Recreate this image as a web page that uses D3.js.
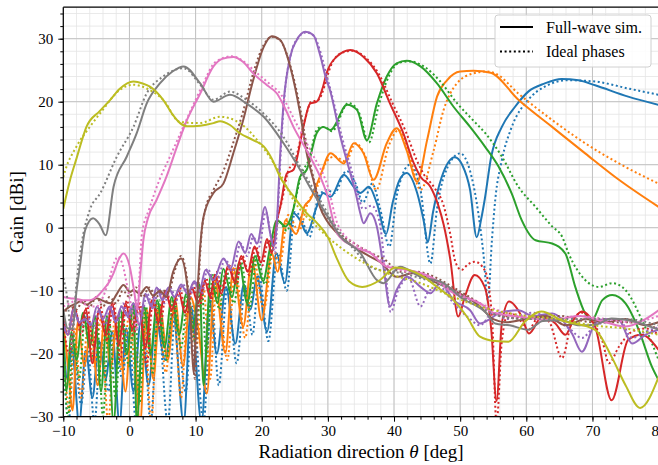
<!DOCTYPE html>
<html>
<head>
<meta charset="utf-8">
<script src="https://cdnjs.cloudflare.com/ajax/libs/d3/7.8.5/d3.min.js"></script>
<style>
  body { margin: 0; background: #fff; }
  svg text { font-family: "Liberation Serif", "DejaVu Serif", serif; fill: #000; }
</style>
</head>
<body>
<script>
// tick values
var xMajor = [-10, 0, 10, 20, 30, 40, 50, 60, 70, 80];
var yMajor = [-30, -20, -10, 0, 10, 20, 30];

// legend entries
var legendLabels = ["Full-wave sim.", "Ideal phases"];

// [theta (deg), gain (dBi)], one pair of arrays per beam
var blueFull = [[-10,-17],[-9.4,-24],[-8.7,-19],[-7.6,-31],[-6.6,-19.5],[-5.6,-27],[-4.6,-18],[-3.6,-24],[-2.6,-16.5],[-1.5,-31],[-0.5,-16],[0.6,-26],[1.7,-15],[2.9,-25],[4,-14.5],[5.4,-21],[6.6,-13.5],[8.2,-31],[9.3,-12.5],[10.9,-31],[12.1,-11.5],[13.2,-20],[14.6,-9.4],[16,-18.4],[17.3,-9],[18.3,-13],[19.3,-7.8],[20.8,-16.5],[22.2,-4.1],[23.5,-8.8],[24.8,2.3],[25.8,1.2],[26.8,-0.9],[28.3,3.3],[29.3,5.5],[30.4,4.9],[32.4,8.4],[33.9,6.5],[34.9,5.5],[36.2,6.5],[37.4,3.9],[38.8,-1],[39.8,4],[40.8,7.5],[41.9,8.7],[43.5,5.5],[44.5,1],[45.1,-2.3],[45.9,2.5],[47.2,8],[49.2,11.2],[50.3,10],[51.5,6],[52.5,-1.5],[53.2,1.5],[53.7,4.4],[54.7,11.3],[56.3,16],[58.3,19.2],[60.3,21.6],[62.8,22.9],[65.3,23.6],[67.9,23.4],[70.4,22.6],[75.4,20.8],[80,19.5]];
var blueIdeal = [[-10,-19],[-9.2,-31],[-8.4,-20],[-7.3,-28],[-6.3,-19],[-5.3,-31],[-4.3,-18],[-3.2,-26],[-2.2,-17],[-1.1,-24],[-0.1,-16],[1,-31],[2.1,-15.5],[3.2,-31],[4.3,-14],[5.8,-31],[6.9,-13.5],[8.5,-26],[9.6,-12.5],[11.2,-31],[12.4,-11],[13.5,-25],[14.8,-9.5],[16.2,-21.5],[17.5,-9.5],[18.6,-17],[19.6,-7.5],[21,-18],[22.4,-4],[23.8,-10],[25,2.5],[26,1.5],[27.2,-1.5],[28.6,5],[29.8,6],[31,5.5],[32.8,9],[34.2,7],[35.3,4],[36.7,7],[37.9,3],[39.3,-3],[40.4,5],[42.4,10],[44,6],[45.5,-5.7],[46.5,3],[47.5,8],[50,11.8],[51.5,9],[53.5,-4],[54.2,-11.5],[54.8,-2],[55.3,4.4],[56.3,10.7],[57.8,16],[60.3,20.3],[62.8,22.4],[66.3,23.4],[70.4,23.2],[75.4,22.1],[80,21.1]];

var orangeFull = [[-10,-15],[-9.3,-22],[-8.6,-29],[-7.8,-15],[-6.8,-22],[-5.8,-15.5],[-4.8,-25],[-3.8,-15],[-2.8,-22],[-1.8,-14],[-0.6,-26],[0.4,-13.5],[1.6,-31],[2.6,-13],[3.6,-24],[4.6,-12.5],[5.8,-21],[6.9,-11.5],[8.1,-22],[9.2,-11],[10.4,-16],[11.7,-26.3],[12.9,-8.3],[14.5,-19.9],[15.7,-6.4],[17.2,-15.7],[18.5,-5.1],[20,-14.7],[21.5,-4],[22.4,-7],[23.6,1.2],[25.2,-1],[26.5,3.5],[27.3,4.4],[28.8,8.1],[30.4,11.8],[32.4,10.2],[33.9,13.4],[35.4,11.8],[36.9,7.6],[38.9,13.4],[40.4,15.8],[41.9,12.3],[43.5,7.3],[45,13.9],[46.5,20.8],[48,23.4],[50,24.8],[52,24.9],[54.6,24.6],[58.8,20.3],[63.9,16],[68.9,11.8],[74,7.6],[80,3.3]];
var orangeIdeal = [[-10,-18],[-9.1,-29],[-8.3,-16],[-7.3,-27],[-6.3,-15.5],[-5.3,-22],[-4.3,-14.5],[-3.2,-31],[-2.2,-14],[-1.1,-23],[0,-13.5],[1.2,-27],[2.2,-13],[3.3,-31],[4.3,-12.5],[5.5,-23],[6.6,-11.5],[7.8,-27],[8.9,-11],[10.1,-19],[11.2,-9.5],[12.2,-24],[13.2,-8],[14.8,-21],[16,-6.5],[17.5,-17.5],[18.8,-5],[20.3,-13],[21.8,-3.5],[22.7,-6],[24,2],[25.6,-0.5],[27,4],[28.4,6.5],[29.8,10.5],[31,11.3],[32.7,10.5],[34.2,13.4],[35.8,11],[37.3,6],[39.2,13],[40.7,15.5],[42.2,12],[44,6],[46,12.3],[47.5,18.7],[49.5,22.9],[52,24.5],[54,24.8],[55.3,24.5],[58.8,21.3],[63.9,17.1],[68.9,13.4],[74,10.2],[80,7]];

var greenFull = [[-10,-16],[-9.5,-26],[-8.8,-16.5],[-8,-21],[-7,-13.5],[-6,-19],[-5.2,-14],[-4.3,-26],[-3.4,-14],[-2.4,-31],[-1.4,-13],[-0.4,-20],[0.6,-12],[1.1,-31],[2.2,-12.5],[3.2,-20],[4.2,-11.5],[5.3,-19],[6.4,-11],[7.5,-17],[8.6,-10.5],[9.6,-16],[10.6,-9],[11.2,-25],[12.3,-7.5],[13.3,-12],[14.2,-6.5],[15.5,-11],[16.6,-5.5],[17.8,-12],[19,-4.5],[20.2,-8.5],[21.2,-3.5],[22.3,1.2],[23.6,0.2],[24.8,3],[25.8,8.1],[26.8,9.2],[28.3,15],[29.3,16],[30.4,15.5],[32.9,19.5],[34.4,18.7],[35.9,13.9],[37.4,19.7],[38.9,24],[40.4,26.1],[41.9,26.5],[44,25.6],[46.5,22.9],[49,19.2],[51.5,16],[53.8,12.8],[55.8,9.7],[57.8,5.4],[59.3,1.2],[61.4,-2],[63.9,-2.5],[65.9,-4.1],[67.4,-9.4],[68.9,-13.6],[69.9,-14.7],[71.5,-11.5],[73,-10.7],[75,-12],[77,-16.2],[79,-22.1],[80,-24.2]];
var greenIdeal = [[-10,-19],[-9.3,-30],[-8.5,-17],[-7.6,-24],[-6.7,-14],[-5.7,-21],[-4.9,-15],[-4,-30],[-3.1,-14.5],[-2.1,-27],[-1.1,-13.5],[-0.1,-22],[0.9,-12.5],[1.5,-28],[2.5,-12.5],[3.5,-23],[4.5,-11.5],[5.6,-21],[6.7,-11],[7.8,-19],[8.9,-10.5],[9.9,-18],[10.9,-9],[11.6,-20],[12.6,-7.5],[13.6,-13],[14.6,-6.5],[15.8,-12],[16.9,-5.5],[18.1,-13],[19.3,-4.5],[20.5,-9],[21.6,-3],[22.6,1],[23.8,-0.5],[25,4],[26,8.5],[27,10.5],[28.5,15.8],[29.5,16],[30.6,15.3],[33.1,19.8],[34.6,18.5],[36.2,13.5],[37.7,19.5],[39.2,24],[40.8,26.2],[42.4,26.4],[44.5,25.6],[47,23.2],[49.5,19.8],[52,17],[53.8,15],[56.3,11.3],[58.8,6.5],[61.4,3.3],[63.9,0.2],[65.4,-1.4],[66.4,-4.1],[68.9,-8.3],[71,-9.4],[73,-8.8],[75,-9.9],[77.5,-14.7],[80,-21]];

var redFull = [[-10,-14.4],[-9.3,-17],[-8.4,-12.5],[-7.5,-15.5],[-6.6,-13],[-5.6,-21.5],[-4.6,-13],[-3.6,-17],[-2.6,-12],[-1.6,-18.5],[-0.6,-12],[0.4,-16],[1.4,-12.5],[2.4,-19],[3.4,-11.5],[4.4,-15],[5.4,-10],[6.4,-13],[7.4,-10],[8.4,-13.5],[9.4,-9.5],[10.4,-12],[11.4,-8.5],[12.2,-11],[12.9,-7.5],[13.9,-10.5],[14.9,-6],[15.9,-8.5],[16.9,-4.5],[17.9,-7],[18.9,-3],[19.9,-5.5],[20.8,-1.8],[21.5,-4],[22.3,1.2],[22.8,3.3],[23.8,8.6],[24.8,9.2],[26.3,16],[27.3,19.7],[28.3,20],[29.3,22.5],[29.8,24.5],[31.4,27.2],[33.4,28.2],[35.4,27.1],[37.4,24.5],[39.4,19.7],[41.4,15],[43,10.2],[44,8.1],[45.5,6.5],[46.7,3.5],[47.5,0.5],[48.5,-5],[49.7,-14.1],[50.7,-11],[52.2,-7.5],[53.7,-9.4],[54.7,-16.2],[55.5,-27.5],[56.3,-15.2],[57.4,-11.7],[59.3,-14.1],[60.4,-16.8],[62.4,-14.1],[64.4,-15.2],[65.9,-17],[67.2,-14.5],[68.4,-13.3],[70.4,-15.7],[72.9,-27.4],[75.4,-17.8],[77.4,-17],[80,-19.4]];
var redIdeal = [[-10,-15],[-9.1,-20],[-8.2,-13],[-7.3,-17],[-6.4,-12.5],[-5.4,-19],[-4.4,-12.5],[-3.4,-18],[-2.4,-12],[-1.4,-21],[-0.4,-11.5],[0.6,-17],[1.6,-12],[2.6,-22],[3.6,-11],[4.6,-16],[5.6,-10],[6.6,-14],[7.6,-9.5],[8.6,-14],[9.6,-9],[10.6,-12.5],[11.6,-8],[12.4,-11.5],[13.1,-7],[14.1,-10],[15.1,-6],[16.1,-9],[17.1,-4.5],[18.1,-7.5],[19.1,-3],[20.1,-6],[21,-2],[21.8,-3],[22.5,2],[23,4],[24,9],[25,10.5],[26.5,17],[27.5,20],[28.5,20.2],[29.5,22.5],[30.2,25],[31.8,27.6],[33.7,28.1],[35.7,27],[37.7,24.4],[39.8,19.7],[41.8,15.2],[43.4,10.8],[44.5,8.5],[46,6.5],[47.5,3.5],[48.5,-1],[49.3,-5.5],[50.2,-6.7],[51.2,-5.8],[52.2,-5.4],[53.7,-6.7],[54.8,-14],[55.5,-31],[56.3,-18],[57.3,-13.6],[58.5,-14],[60.3,-16.2],[62,-14],[63.5,-15],[65.4,-20.7],[67,-14.5],[68.5,-13.5],[70,-15],[71.5,-18],[72.5,-21.5],[74,-18.9],[76,-16.5],[78,-16],[80,-17]];

var purpleFull = [[-10,-15.5],[-9.3,-17],[-8.5,-13],[-7.6,-15],[-6.7,-14.5],[-5.8,-15.5],[-4.9,-12.5],[-4,-14.5],[-3,-12.5],[-2.1,-15],[-1.2,-12.5],[-0.3,-14],[0.6,-12],[1.5,-15.5],[2.4,-10.5],[3.3,-12.5],[4.1,-9.5],[5,-11.5],[5.9,-9.5],[6.8,-11],[7.8,-9],[8.8,-10.5],[9.8,-8.5],[10.6,-10],[11.5,-6.7],[12.7,-8.3],[14.2,-4.9],[15.3,-6.5],[16.5,-2.2],[17.5,-4],[18.4,-1],[19.3,-2.5],[20.5,3.3],[21.3,-1],[21.8,-3],[22.3,1.2],[22.8,11.8],[23.3,19.7],[24.3,27.1],[25.3,29.8],[26.6,31.1],[27.8,30.6],[28.8,27.5],[29.8,23.4],[30.3,21.9],[31.9,14.4],[33.4,8.6],[34.2,5.5],[34.9,2.3],[35.4,0.7],[36.4,2.3],[37.4,0.2],[38.4,-6.2],[39.4,-12.5],[40.4,-9.9],[42,-7.8],[44,-9.4],[45.5,-10.4],[47,-8.8],[49,-11.5],[51.5,-13.1],[53,-15.2],[54.5,-14.5],[56,-13.5],[58.8,-13.1],[61,-14],[63.9,-13.6],[66.9,-16.8],[68.4,-19.7],[70.4,-15.2],[72,-14.5],[74,-14.7],[76,-18.4],[78,-17],[80,-16.2]];
var purpleIdeal = [[-10,-15],[-9.1,-16.5],[-8.2,-13.5],[-7.3,-15.5],[-6.4,-14],[-5.5,-16],[-4.6,-13],[-3.7,-15.5],[-2.8,-12.5],[-1.9,-15],[-1,-12],[0,-14.5],[0.9,-11.5],[1.8,-14],[2.7,-10.5],[3.6,-13],[4.4,-9.5],[5.3,-12],[6.2,-9.5],[7.1,-11.5],[8.1,-9],[9.1,-11],[10,-8.5],[10.9,-10.5],[11.8,-6.5],[13,-9],[14.5,-5],[15.6,-7],[16.8,-2.5],[17.8,-4.5],[18.7,-1.5],[19.6,-3],[20.6,2.5],[21.5,-2],[22,-4],[22.4,2],[22.9,12.5],[23.4,20.5],[24.4,27.5],[25.4,30],[26.7,31],[27.9,30.4],[28.9,27.8],[29.9,23.8],[30.5,21.5],[32.1,14.5],[33.6,9],[34.5,5.5],[35.3,3],[36.6,3.5],[37.8,1],[38.7,-7],[39.5,-13.4],[40.6,-10],[42.2,-8],[44,-12.5],[45.3,-10],[47,-9.5],[49,-12],[51.5,-14.5],[53,-15.5],[55,-13.5],[57,-14.5],[58.8,-14],[61,-13.5],[63.9,-14.5],[66.5,-16],[68.4,-17.5],[70.4,-15.5],[72,-15],[74,-14.5],[76,-17.5],[78,-16.5],[80,-15.8]];

var brownFull = [[-10,-13.3],[-9,-12.5],[-8,-12],[-7.5,-11.7],[-6.5,-12.2],[-5,-11.2],[-4,-11.6],[-2.9,-12],[-1.9,-10.5],[-0.9,-9.1],[0.1,-10.2],[0.6,-9.9],[1.6,-10.5],[2.6,-9.4],[3.6,-10.8],[4.6,-10],[5.6,-11],[6.6,-7],[7.8,-4.9],[8.6,-8],[9.2,-14],[9.7,-23.1],[10.2,-12],[10.7,-3],[11.2,1.7],[12.7,5.5],[14.2,7],[15.7,11.8],[17.2,17.1],[18.7,23.4],[20.3,28.7],[21.5,30.4],[22.8,29.8],[24.3,25.6],[25.8,18.2],[26.8,11.8],[27.8,7.6],[28.8,3.3],[29.8,1.2],[31.4,-0.9],[33.9,-3],[36.4,-4.6],[38,-5.5],[40.4,-7.8],[43,-7.2],[46.5,-8.8],[49,-9.9],[53,-12.5],[55,-14.5],[57,-15],[60,-14.5],[63,-14],[66,-15.5],[69,-14.5],[72,-15],[75,-14.5],[78,-15.5],[80,-15]];
var brownIdeal = [[-10,-14],[-9,-12.5],[-8,-13],[-7,-11.5],[-6,-12.5],[-5,-11],[-4,-12.5],[-3,-11],[-2,-12],[-1,-10],[0,-11],[1,-9.5],[2,-11],[3,-9.5],[4,-11],[5,-10],[6,-10],[6.8,-7],[7.8,-4.5],[8.8,-9],[9.4,-16],[9.9,-24],[10.4,-10],[10.9,-1],[11.5,3],[12.7,6],[14.2,9],[15.7,13.5],[17.2,18.5],[18.7,24.5],[20.3,29],[21.5,30.3],[22.8,29.7],[24.3,25.8],[25.8,19],[26.8,13],[27.8,8],[28.8,4],[30,1.5],[31.4,-0.5],[34,-2.5],[36.5,-4],[38.5,-5],[41,-7],[43.5,-7],[46.5,-8],[49,-9.5],[53,-12],[56,-14],[60,-14.5],[65,-14],[70,-15],[75,-15],[80,-16]];

var pinkFull = [[-10,-11],[-9,-11.2],[-8,-11.3],[-7,-11.5],[-6,-11.5],[-5,-11],[-4,-9.9],[-3,-8.5],[-2.4,-7.2],[-1.6,-5],[-0.9,-4.1],[0,-6],[0.7,-10],[1.2,-13],[1.6,-8],[2.1,-2],[2.8,1.5],[4.1,4.4],[5.6,8.1],[7.2,12.9],[8.7,17.1],[10.7,21.3],[12.7,25.6],[14,26.8],[15.7,27.1],[17.2,26.3],[18.7,24.5],[20.8,22.6],[22.3,21.3],[23.5,19],[24.8,16],[27.3,11.3],[29.8,5.5],[31.4,-0.9],[33.9,-3],[36.4,-4],[38.9,-6.2],[42,-6.7],[45.5,-7.8],[49,-10.4],[53,-12],[55,-13.5],[58.8,-14.1],[63.9,-14.7],[68,-14],[72,-15],[75,-15.7],[78,-14.5],[80,-13.1]];
var pinkIdeal = [[-10,-12.5],[-9,-12],[-8,-11.5],[-7,-12],[-6,-12.5],[-5,-12.5],[-4,-11],[-3,-8],[-2.3,-5.5],[-1.7,-4.6],[-1,-6],[-0.3,-9.5],[0.5,-13.5],[1.1,-16.3],[1.5,-8],[1.9,-0.9],[3,3],[4.5,7.5],[6,11],[7.5,14.5],[9,18],[11,22.5],[13,26.3],[15.5,27.2],[17.5,26.2],[19,24.8],[21,23],[23,21],[25,17],[27.5,12],[30,6.5],[31.5,0.5],[34,-2.5],[36.5,-4],[39,-6],[42,-7],[45.5,-8],[49,-10],[53,-12],[57,-13.5],[60,-14],[64,-14.5],[68,-14],[72,-14.5],[76,-15],[80,-14]];

var grayFull = [[-10,-13],[-9.3,-16],[-8.6,-16],[-8,-10],[-7.5,-6.2],[-6.7,-0.4],[-5.5,1.5],[-4.5,0.5],[-3.6,-1.2],[-2.4,6.5],[-0.4,11.3],[1.1,15],[2.6,19.7],[4.6,22.9],[6.5,24.8],[8.2,25.6],[10.7,22.9],[12.7,20],[15.2,21.1],[17.7,19.7],[20.3,17.6],[23.3,13.4],[25.8,9.2],[27.8,5.5],[30.3,1.2],[31.9,-1.4],[34.9,-4],[37.4,-8.3],[38.4,-8.8],[40.9,-6.2],[44,-7.8],[47.5,-8.8],[50,-11],[54,-13.6],[55.3,-15.2],[57.5,-15.5],[60.3,-16.2],[62.5,-14.8],[65.3,-14.7],[68,-15.5],[70.4,-15.4],[72.9,-14.4],[76,-14.8],[80,-16.2]];
var grayIdeal = [[-10,-8],[-9.3,-12],[-8.7,-19],[-8.1,-10],[-7.3,-3],[-6,2.8],[-4.4,5.5],[-1.9,11.3],[0.6,16],[2.6,21.3],[5.1,24],[8.2,25.3],[10.7,22.7],[12.7,20.3],[15.2,21.6],[17.7,20.3],[20.3,18.1],[23.3,14.4],[25.8,9.7],[28.8,4.4],[31,0.5],[34,-3.5],[37,-6.5],[40,-7],[44,-8],[48,-9.5],[52,-12],[56,-14],[60,-14.5],[65,-14.5],[70,-14.5],[75,-14.5],[80,-15.5]];

var oliveFull = [[-10,3],[-9,7.5],[-8,11],[-7,14.5],[-6.5,16],[-4.5,18.5],[-2.9,20.3],[-1.5,22],[0.6,23.2],[2,22.9],[3.1,22.4],[5.1,20.3],[6.5,18],[7.65,16.6],[8.7,16.1],[10.7,16.2],[12.7,16.6],[13.7,16.9],[15.2,16.3],[16.7,15],[18.7,13.9],[20.3,12.9],[21.5,11],[22.8,8],[24.8,5],[26.8,2.3],[28.3,0.8],[30,-1.5],[31.4,-5],[33.2,-8.5],[35.2,-9.4],[37.9,-8.3],[40.2,-6.3],[44,-7.5],[46.5,-9.4],[49,-11.5],[51,-14.1],[53,-17.3],[55.3,-18],[57.3,-18.1],[59.8,-14.9],[62.3,-13.3],[65.3,-14.7],[70.4,-16.2],[72.9,-20.5],[75,-25],[77.2,-28.6],[80,-23.7]];
var oliveIdeal = [[-10,8],[-9.7,9.1],[-8,12.9],[-6,16],[-4.4,18.2],[-1.4,21.9],[0.6,22.7],[2.6,22.1],[5.1,20.3],[7.6,16.8],[10.6,16.6],[13.7,17.6],[16.7,16.6],[19.7,13.4],[22.7,8.7],[24.8,4.4],[28.3,0.2],[30,-1.5],[33.9,-4.6],[38.9,-7.2],[44,-8.8],[49,-11],[53,-12.5],[57,-13.5],[60,-14],[65,-14.5],[70,-15.5],[75,-16],[80,-17]];

var beams = [
  { full: blueFull,   ideal: blueIdeal,   colour: "#1f77b4" },
  { full: orangeFull, ideal: orangeIdeal, colour: "#ff7f0e" },
  { full: greenFull,  ideal: greenIdeal,  colour: "#2ca02c" },
  { full: redFull,    ideal: redIdeal,    colour: "#d62728" },
  { full: purpleFull, ideal: purpleIdeal, colour: "#9467bd" },
  { full: brownFull,  ideal: brownIdeal,  colour: "#8c564b" },
  { full: pinkFull,   ideal: pinkIdeal,   colour: "#e377c2" },
  { full: grayFull,   ideal: grayIdeal,   colour: "#7f7f7f" },
  { full: oliveFull,  ideal: oliveIdeal,  colour: "#bcbd22" }
];

var width = 658, height = 465;
var plotLeft = 63.3, plotRight = 658.6, plotTop = 7.2, plotBottom = 416.7;

var x = d3.scaleLinear().domain([-10, 80]).range([plotLeft, plotRight]);
var y = d3.scaleLinear().domain([-30, 35]).range([plotBottom, plotTop]);

var svg = d3.select("body").append("svg")
    .attr("width", width)
    .attr("height", height);

// grid, minor first
var xMinor = d3.range(-10, 81, 2);
var yMinor = d3.range(-30, 35, 2);

var grid = svg.append("g").attr("class", "grid");
grid.selectAll(".xminor").data(xMinor).enter().append("line")
    .attr("x1", function(d) { return x(d); }).attr("x2", function(d) { return x(d); })
    .attr("y1", plotTop).attr("y2", plotBottom)
    .attr("stroke", "#e4e4e4").attr("stroke-width", 0.8);
grid.selectAll(".yminor").data(yMinor).enter().append("line")
    .attr("x1", plotLeft).attr("x2", plotRight)
    .attr("y1", function(d) { return y(d); }).attr("y2", function(d) { return y(d); })
    .attr("stroke", "#e4e4e4").attr("stroke-width", 0.8);
grid.selectAll(".xmajor").data(xMajor).enter().append("line")
    .attr("x1", function(d) { return x(d); }).attr("x2", function(d) { return x(d); })
    .attr("y1", plotTop).attr("y2", plotBottom)
    .attr("stroke", "#c2c2c2").attr("stroke-width", 1);
grid.selectAll(".ymajor").data(yMajor).enter().append("line")
    .attr("x1", plotLeft).attr("x2", plotRight)
    .attr("y1", function(d) { return y(d); }).attr("y2", function(d) { return y(d); })
    .attr("stroke", "#c2c2c2").attr("stroke-width", 1);

svg.append("clipPath").attr("id", "plotclip")
  .append("rect")
    .attr("x", plotLeft).attr("y", plotTop)
    .attr("width", plotRight - plotLeft).attr("height", plotBottom - plotTop);

var line = d3.line()
    .x(function(d) { return x(d[0]); })
    .y(function(d) { return y(d[1]); })
    .curve(d3.curveMonotoneX);

var curves = svg.append("g").attr("clip-path", "url(#plotclip)");
beams.forEach(function(b) {
  curves.append("path")
      .attr("d", line(b.full))
      .attr("fill", "none")
      .attr("stroke", b.colour)
      .attr("stroke-width", 2);
  curves.append("path")
      .attr("d", line(b.ideal))
      .attr("fill", "none")
      .attr("stroke", b.colour)
      .attr("stroke-width", 2)
      .attr("stroke-dasharray", "2,2.6");
});

// axes
var xAxis = svg.append("g").attr("transform", "translate(0," + plotBottom + ")")
    .call(d3.axisBottom(x).tickValues(xMajor).tickSize(5).tickPadding(4));
svg.append("g").attr("transform", "translate(0," + plotBottom + ")")
    .call(d3.axisBottom(x).tickValues(xMinor).tickSize(3).tickFormat(""));
var yAxis = svg.append("g").attr("transform", "translate(" + plotLeft + ",0)")
    .call(d3.axisLeft(y).tickValues(yMajor).tickSize(5).tickPadding(5));
svg.append("g").attr("transform", "translate(" + plotLeft + ",0)")
    .call(d3.axisLeft(y).tickValues(yMinor).tickSize(3).tickFormat(""));

svg.selectAll(".domain").remove();
svg.selectAll(".tick line").attr("stroke", "#000").attr("stroke-width", 1);
xAxis.selectAll("text").style("font-size", "15px");
yAxis.selectAll("text").style("font-size", "15px");

// spines
var spines = svg.append("g").attr("stroke", "#000").attr("stroke-width", 1.2);
spines.append("line").attr("x1", plotLeft).attr("x2", plotLeft).attr("y1", plotTop).attr("y2", plotBottom);
spines.append("line").attr("x1", plotLeft).attr("x2", plotRight).attr("y1", plotBottom).attr("y2", plotBottom);
spines.append("line").attr("x1", plotLeft).attr("x2", plotRight).attr("y1", plotTop).attr("y2", plotTop);
spines.append("line").attr("x1", plotRight).attr("x2", plotRight).attr("y1", plotTop).attr("y2", plotBottom);

// axis labels
var xlab = svg.append("text")
    .attr("x", 361).attr("y", 458)
    .attr("text-anchor", "middle")
    .style("font-size", "19px");
xlab.append("tspan").text("Radiation direction ");
xlab.append("tspan").style("font-style", "italic").text("θ");
xlab.append("tspan").text(" [deg]");

svg.append("text")
    .attr("transform", "translate(23,212) rotate(-90)")
    .attr("text-anchor", "middle")
    .style("font-size", "19px")
    .text("Gain [dBi]");

// legend
var legend = svg.append("g");
legend.append("rect")
    .attr("x", 495).attr("y", 15).attr("width", 156).attr("height", 52)
    .attr("rx", 3)
    .attr("fill", "#fff").attr("fill-opacity", 0.85)
    .attr("stroke", "#d0d0d0").attr("stroke-width", 1);
legendLabels.forEach(function(label, i) {
  var ly = 27 + i * 24.5;
  legend.append("line")
      .attr("x1", 500).attr("x2", 533).attr("y1", ly).attr("y2", ly)
      .attr("stroke", "#000").attr("stroke-width", 2)
      .attr("stroke-dasharray", i === 1 ? "2,2.6" : null);
  legend.append("text")
      .attr("x", 546).attr("y", ly + 5.5)
      .style("font-size", "16px")
      .text(label);
});
</script>
</body>
</html>
